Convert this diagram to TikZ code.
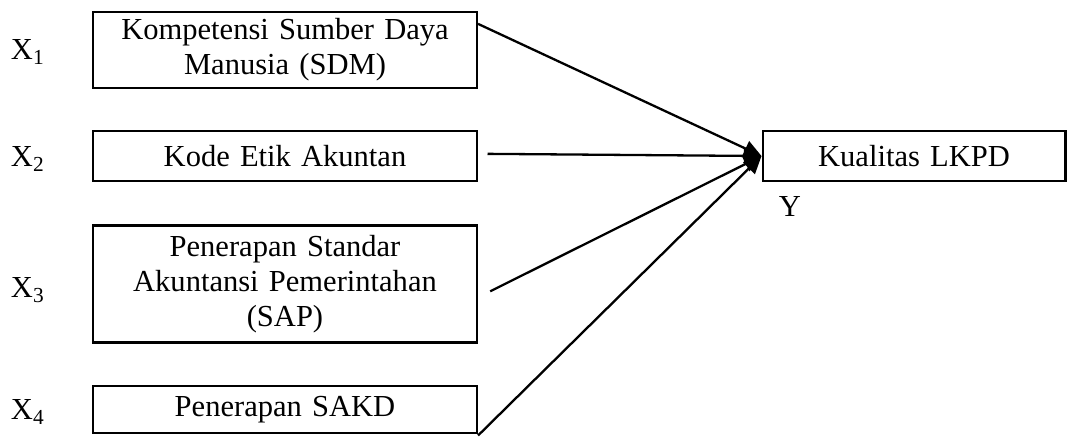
\documentclass[tikz,border=0pt]{standalone}
\usepackage{fontspec}
\setmainfont{Liberation Serif}
\usetikzlibrary{positioning,arrows.meta}

\newcommand\diagfont{\fontsize{11.3}{13}\selectfont\spaceskip=2.3pt\relax}

\tikzset{
	varbox/.style={draw,line width=0.85pt,minimum width=142pt,inner sep=2pt,
		text width=136pt,align=center},
	varlabel/.style={inner sep=0pt}
}

\begin{document}
\begin{tikzpicture}[x=0.37pt,y=-0.37pt,>={Triangle[length=6.5pt,width=6pt]},font=\diagfont,line width=0.85pt]
	\useasboundingbox (0,0) rectangle (1068,436);
	% independent variables
	\node[varbox,minimum height=28.1pt] (sdm) at (285,50) {Kompetensi Sumber Daya\\ Manusia (SDM)};
	\node[varbox,minimum height=18.5pt] (kode) at (285,156) {Kode Etik Akuntan};
	\node[varbox,minimum height=43.3pt] (sap) at (285,284) {Penerapan Standar\\ Akuntansi Pemerintahan\\ (SAP)};
	\node[varbox,minimum height=17.4pt] (sakd) at (285,409.5) {Penerapan SAKD};
	% dependent variable
	\node[varbox,minimum width=112pt,text width=106pt,minimum height=18.5pt] (lkpd) at (914,156) {Kualitas LKPD};
	% labels
	\node[varlabel] (x1) at (28,52) {X\textsubscript{1}};
	\node[varlabel] (x2) at (28,159) {X\textsubscript{2}};
	\node[varlabel] (x3) at (28,290) {X\textsubscript{3}};
	\node[varlabel] (x4) at (28,412) {X\textsubscript{4}};
	\node[varlabel,below left=5pt and -15pt of lkpd.south west] (y) {Y};
	% paths
	\draw[->] ([yshift=-4.8pt]sdm.north east) -- (lkpd.west);
	\draw[->] ([xshift=3.5pt,yshift=0.8pt]kode.east) -- (lkpd.west);
	\draw[->] ([xshift=4.5pt,yshift=-2.7pt]sap.east) -- (lkpd.west);
	\draw[->] ([yshift=-0.5pt]sakd.south east) -- (lkpd.west);
\end{tikzpicture}
\end{document}
